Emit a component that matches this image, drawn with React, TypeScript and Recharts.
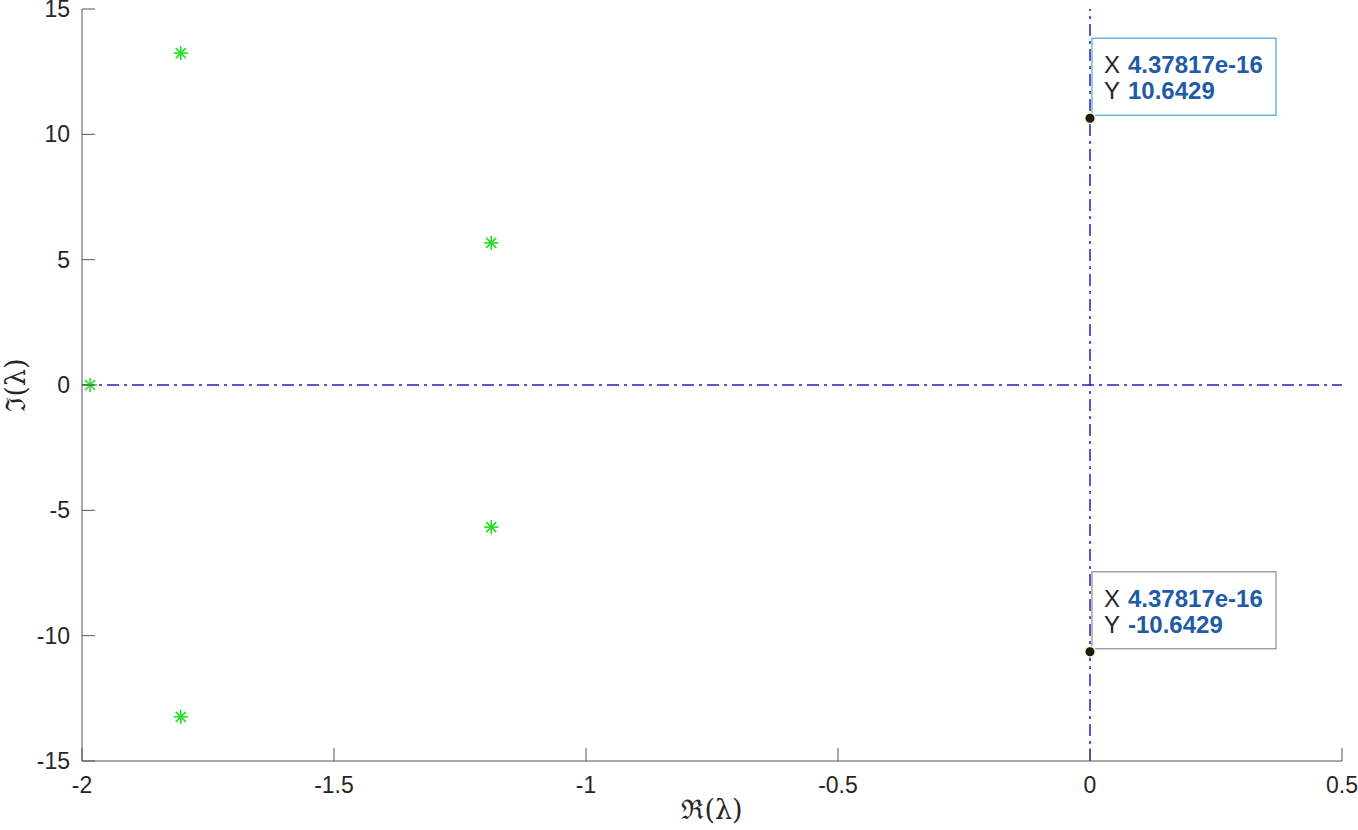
import { ReferenceLine, Scatter, ScatterChart, XAxis, YAxis } from 'recharts';

// eigenvalues (real / imaginary parts)
const eigRe = [-1.804, -1.188, -1.984, -1.188, -1.804];
const eigIm = [13.24, 5.67, 0, -5.67, -13.24];

// data tips on the imaginary axis
const tipRe = [4.37817e-16, 4.37817e-16];
const tipIm = [10.6429, -10.6429];
const tipBorder = ['#4aa3df', '#8c8c8c'];

const xTicks = [-2, -1.5, -1, -0.5, 0, 0.5];
const yTicks = [-15, -10, -5, 0, 5, 10, 15];

const AXIS = '#555555';
const TICK_TEXT = '#262626';
const SANS = 'Liberation Sans, Arial, sans-serif';
const TICK_LEN = 13;
const X_GAP = 28;
const Y_GAP = 12;

const eigData = eigRe.map((x, i) => ({ x, y: eigIm[i] }));
const tipData = tipRe.map((x, i) => ({ x, y: tipIm[i], border: tipBorder[i] }));

// ticks point into the plot, MATLAB style
function BottomTick(props: any) {
  const { x, y, payload } = props;
  const axisY = y - X_GAP;
  return (
    <g>
      <line x1={x} y1={axisY} x2={x} y2={axisY - TICK_LEN} stroke={AXIS} />
      <text x={x} y={y + 4} textAnchor="middle" fill={TICK_TEXT} style={{ fontFamily: SANS, fontSize: 23 }}>
        {payload.value}
      </text>
    </g>
  );
}

function LeftTick(props: any) {
  const { x, y, payload } = props;
  const axisX = x + Y_GAP;
  return (
    <g>
      <line x1={axisX} y1={y} x2={axisX + TICK_LEN} y2={y} stroke={AXIS} />
      <text x={x} y={y + 8} textAnchor="end" fill={TICK_TEXT} style={{ fontFamily: SANS, fontSize: 23 }}>
        {payload.value}
      </text>
    </g>
  );
}

function TopTick(props: any) {
  const { x, y } = props;
  return <line x1={x} y1={y} x2={x} y2={y + TICK_LEN} stroke={AXIS} />;
}

function RightTick(props: any) {
  const { x, y } = props;
  return <line x1={x} y1={y} x2={x - TICK_LEN} y2={y} stroke={AXIS} />;
}

function Star(props: any) {
  const { cx, cy } = props;
  const r = 7;
  const d = r * 0.72;
  return (
    <g stroke="#22dd22" strokeWidth={1.6}>
      <line x1={cx - r} y1={cy} x2={cx + r} y2={cy} />
      <line x1={cx} y1={cy - r} x2={cx} y2={cy + r} />
      <line x1={cx - d} y1={cy - d} x2={cx + d} y2={cy + d} />
      <line x1={cx - d} y1={cy + d} x2={cx + d} y2={cy - d} />
    </g>
  );
}

function DataTip(props: any) {
  const { cx, cy, payload } = props;
  const font = { fontFamily: SANS, fontSize: 24 };
  return (
    <g>
      <rect x={cx + 2} y={cy - 80} width={184} height={77} fill="#ffffff" stroke={payload.border} strokeWidth={1.2} />
      <text x={cx + 14} y={cy - 45} fill={TICK_TEXT} style={font}>X</text>
      <text x={cx + 38} y={cy - 45} fill="#1f5ba6" fontWeight="bold" style={font}>
        {payload.x.toExponential(5)}
      </text>
      <text x={cx + 14} y={cy - 19} fill={TICK_TEXT} style={font}>Y</text>
      <text x={cx + 38} y={cy - 19} fill="#1f5ba6" fontWeight="bold" style={font}>
        {String(payload.y)}
      </text>
      <circle cx={cx} cy={cy} r={6} fill="#fff4c8" />
      <circle cx={cx} cy={cy} r={4.5} fill="#1a1a1a" />
    </g>
  );
}

export default function App() {
  return (
    <div style={{ position: 'absolute', left: 0, top: 0, width: 1358, height: 830, background: '#ffffff' }}>
      <ScatterChart width={1358} height={830} margin={{ top: 9, right: 16, bottom: 0, left: 0 }}>
        <XAxis
          xAxisId="b"
          type="number"
          dataKey="x"
          domain={[-2, 0.5]}
          ticks={xTicks}
          height={69}
          stroke={AXIS}
          tickLine={false}
          tickSize={0}
          tickMargin={X_GAP}
          tick={BottomTick}
          label={{
            value: 'ℜ(λ)',
            position: 'insideBottom',
            offset: 11,
            style: { fill: TICK_TEXT, fontSize: 27, fontFamily: 'DejaVu Serif, serif' },
          }}
        />
        <XAxis
          xAxisId="t"
          orientation="top"
          type="number"
          dataKey="x"
          domain={[-2, 0.5]}
          ticks={xTicks}
          height={0}
          stroke={AXIS}
          tickLine={false}
          tickSize={0}
          tickMargin={0}
          tick={TopTick}
        />
        <YAxis
          yAxisId="l"
          type="number"
          dataKey="y"
          domain={[-15, 15]}
          ticks={yTicks}
          width={82}
          stroke={AXIS}
          tickLine={false}
          tickSize={0}
          tickMargin={Y_GAP}
          tick={LeftTick}
          label={{
            value: 'ℑ(λ)',
            angle: -90,
            position: 'insideLeft',
            offset: 15,
            style: { fill: TICK_TEXT, fontSize: 27, fontFamily: 'DejaVu Serif, serif', textAnchor: 'middle' },
          }}
        />
        <YAxis
          yAxisId="r"
          orientation="right"
          type="number"
          dataKey="y"
          domain={[-15, 15]}
          ticks={yTicks}
          width={0}
          stroke={AXIS}
          tickLine={false}
          tickSize={0}
          tickMargin={0}
          tick={RightTick}
        />
        <ReferenceLine xAxisId="b" yAxisId="l" y={0} stroke="#2222bb" strokeWidth={1.5} strokeDasharray="12 5 3 5" />
        <ReferenceLine xAxisId="b" yAxisId="l" x={0} stroke="#2222bb" strokeWidth={1.5} strokeDasharray="12 5 3 5" />
        <Scatter xAxisId="b" yAxisId="l" data={eigData} shape={Star} isAnimationActive={false} />
        <Scatter xAxisId="b" yAxisId="l" data={tipData} shape={DataTip} isAnimationActive={false} />
      </ScatterChart>
    </div>
  );
}
